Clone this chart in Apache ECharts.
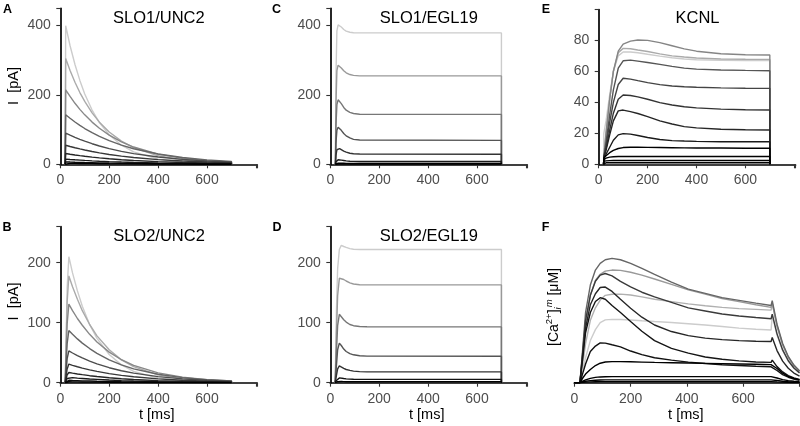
<!DOCTYPE html>
<html>
<head>
<meta charset="utf-8">
<script src="https://cdn.jsdelivr.net/npm/echarts@6/dist/echarts.min.js"></script>
<style>
html,body{margin:0;padding:0;background:#fff;}
#chart{width:800px;height:426px;}
</style>
</head>
<body>
<div id="chart"></div>
<script>
// ---------------- DATA ----------------
// Panel A: SLO1/UNC2, current I [pA] vs t [ms]
const tA = [20, 22, 40, 60, 80, 100, 130, 160, 200, 250, 300, 400, 500, 600, 700, 700];
const curvesA = [
  [0, 400, 342, 288, 242, 203, 156.5, 120.5, 85, 55, 35.7, 15, 6.3, 2.6, 1.1, 0],
  [0, 305, 270.5, 236.7, 207, 181.4, 148.5, 121.6, 93, 66.8, 47.9, 24.5, 12.6, 6.5, 3.3, 0],
  [0, 215, 195.7, 176, 158.5, 142.6, 121.7, 104, 84.2, 64.8, 49.8, 29.4, 17.4, 10.3, 6.1, 0],
  [0, 143, 132.7, 122.1, 112.3, 103.2, 91.2, 80.5, 68.1, 55.3, 44.9, 29.6, 19.5, 12.8, 8.5, 0],
  [0, 90, 84, 77.8, 72, 66.7, 59.4, 52.9, 45.4, 37.4, 30.9, 21, 14.3, 9.7, 6.6, 0],
  [0, 55, 51.4, 47.8, 44.4, 41.2, 36.9, 33, 28.4, 23.7, 19.6, 13.6, 9.4, 6.5, 4.5, 0],
  [0, 31, 29, 26.9, 25, 23.2, 20.8, 18.6, 16, 13.3, 11.1, 7.7, 5.3, 3.7, 2.5, 0],
  [0, 15, 14, 13, 12.1, 11.2, 10, 9, 7.8, 6.5, 5.4, 3.7, 2.6, 1.8, 1.2, 0],
  [0, 7, 6.5, 6, 5.6, 5.2, 4.7, 4.2, 3.6, 3, 2.5, 1.7, 1.2, 0.8, 0.6, 0],
  [0, 3, 2.8, 2.6, 2.4, 2.2, 2, 1.8, 1.5, 1.3, 1.1, 0.7, 0.5, 0.35, 0.25, 0]
];
// Panel B: SLO2/UNC2
const tB = [20, 28, 35, 50, 70, 90, 120, 150, 200, 250, 300, 400, 500, 600, 700, 700];
const curvesB = [
  [0, 158, 210, 183, 153, 127.5, 97, 74, 47, 29.7, 18.9, 7.6, 3.1, 1.2, 0.5, 0],
  [0, 134, 178, 160, 139, 120, 97, 78, 55, 38, 26.8, 13.1, 6.4, 3.1, 1.5, 0],
  [0, 98, 131, 120, 107, 95.7, 80.6, 67.9, 51, 38.3, 28.8, 16.3, 9.2, 5.2, 2.9, 0],
  [0, 65, 87, 80.7, 73, 66, 56.9, 49, 38.1, 29.7, 23.1, 14, 8.5, 5.2, 3.1, 0],
  [0, 40, 53, 49.5, 45.2, 41.3, 36, 31.4, 25, 19.9, 15.9, 10.1, 6.4, 4.1, 2.6, 0],
  [0, 23, 31, 29, 26.6, 24.4, 21.4, 18.8, 15.1, 12.2, 9.8, 6.3, 4.1, 2.7, 1.7, 0],
  [0, 13, 17, 15.9, 14.6, 13.4, 11.7, 10.3, 8.3, 6.7, 5.4, 3.5, 2.2, 1.5, 0.9, 0],
  [0, 7, 9, 8.4, 7.7, 7.1, 6.2, 5.5, 4.4, 3.5, 2.8, 1.8, 1.2, 0.8, 0.5, 0],
  [0, 3, 4, 3.7, 3.4, 3.1, 2.8, 2.4, 2, 1.6, 1.3, 0.8, 0.5, 0.3, 0.2, 0],
  [0, 1.1, 1.5, 1.4, 1.3, 1.2, 1, 0.9, 0.7, 0.6, 0.5, 0.3, 0.2, 0.1, 0.1, 0]
];
// Panel C: SLO1/EGL19
const tC = [21, 23, 27, 32, 38, 45, 55, 65, 80, 95, 120, 700, 700];
const curvesC = [
  [0, 250, 385, 402, 400, 396, 389, 384, 381, 379.5, 379, 379, 0],
  [0, 170, 270, 286, 283, 278, 270, 264, 259, 256.5, 255, 255, 0],
  [0, 110, 172, 186, 182, 175, 164, 156, 150, 146.5, 144.5, 144, 0],
  [0, 60, 98, 107, 104, 98, 89, 82, 76, 72, 70, 69, 0],
  [0, 25, 42, 46, 45, 42, 38, 35, 32, 30.5, 29.5, 29, 0],
  [0, 7, 12, 13, 12.8, 12, 11, 10, 9, 8.5, 8.1, 8, 0],
  [0, 2, 3.2, 3.5, 3.4, 3.2, 2.9, 2.6, 2.4, 2.3, 2.2, 2.2, 0],
  [0, 0.5, 0.9, 1, 1, 0.9, 0.8, 0.7, 0.65, 0.6, 0.6, 0.6, 0]
];
// Panel D: SLO2/EGL19
const tD = [20, 25, 30, 37, 45, 55, 65, 80, 95, 120, 150, 700, 700];
const curvesD = [
  [0, 120, 190, 222, 229, 227, 225.5, 223.5, 222.5, 222, 222, 222, 0],
  [0, 80, 145, 174, 175, 172, 169.5, 166.5, 164.5, 163.3, 163, 163, 0],
  [0, 50, 95, 114, 111, 105, 101, 97, 95, 93.7, 93.2, 93, 0],
  [0, 28, 55, 66, 62, 56, 52, 48.5, 46.5, 45, 44.3, 44, 0],
  [0, 12, 23, 28, 26.5, 24, 22, 20.5, 19.3, 18.5, 18.1, 18, 0],
  [0, 3.5, 6.5, 8, 7.6, 6.9, 6.4, 6, 5.8, 5.6, 5.5, 5.5, 0],
  [0, 1, 1.7, 2, 1.9, 1.8, 1.7, 1.6, 1.55, 1.5, 1.5, 1.5, 0]
];
// Panel E: KCNL
const tE = [20, 21, 30, 45, 60, 80, 100, 130, 160, 200, 250, 300, 350, 400, 500, 600, 700, 700];
const curvesE = [
  [0, 20, 28, 45, 60, 70, 72.5, 72.5, 72, 71, 69.8, 68.8, 68, 67.5, 67.1, 67, 66.9, 0],
  [0, 5, 20, 42, 60, 72, 74.8, 74.6, 73.8, 72.8, 71.3, 70, 69.2, 68.6, 68, 67.8, 67.7, 0],
  [0, 5, 20, 42, 60, 73, 77.5, 79.5, 80.2, 80, 78.5, 76.5, 74.5, 73, 71.3, 70.7, 70.5, 0],
  [0, 4.5, 14, 32, 48, 62, 66.8, 67.2, 66.6, 65.7, 64.5, 63.2, 62.1, 61.4, 60.9, 60.6, 60.4, 0],
  [0, 4.5, 12, 27, 40, 51.5, 55.5, 55, 54, 52.7, 51.4, 50.5, 50, 49.7, 49.3, 49.1, 49, 0],
  [0, 4.5, 10, 22, 33, 42, 44.7, 44.4, 43.5, 42, 39.8, 38.3, 37.1, 36.4, 35.6, 35.2, 35, 0],
  [0, 4.5, 9, 19, 28, 34.5, 35, 34, 32.8, 30.8, 28, 26, 24.3, 23.5, 22.6, 22.3, 22.1, 0],
  [0, 4, 6.5, 11, 15.5, 19, 19.8, 19.5, 18.6, 17.3, 16, 15.3, 15, 14.8, 14.6, 14.6, 14.6, 0],
  [0, 4, 5.5, 7.5, 9, 10.2, 10.8, 11, 11, 10.9, 10.8, 10.7, 10.6, 10.5, 10.5, 10.4, 10.4, 0],
  [0, 3, 4, 4.6, 4.9, 5, 5, 5, 5, 5, 5, 5, 5, 5, 5, 5, 5, 0],
  [0, 2, 2.2, 2.4, 2.5, 2.5, 2.5, 2.5, 2.5, 2.5, 2.5, 2.5, 2.5, 2.5, 2.5, 2.5, 2.5, 0],
  [0, 0.8, 1, 1, 1, 1, 1, 1, 1, 1, 1, 1, 1, 1, 1, 1, 1, 0]
];
// Panel F: membrane Ca2+ concentration (arbitrary units, no y ticks)
const tF = [0, 20, 30, 40, 57, 75, 92, 110, 134, 164, 200, 240, 285, 345, 405, 465, 525, 585, 645, 699, 703, 720, 740, 760, 780, 800];
const curvesF = [
  [0, 0, 8, 16, 27, 34, 38.5, 40.3, 40.6, 40.5, 40.2, 39.7, 39.2, 38.6, 37.8, 37, 36, 35, 34.3, 33.8, 43, 30.6, 20.5, 13.8, 9.2, 6.2],
  [0, 0, 12, 25, 40, 48, 53, 56, 56.7, 56.8, 56.2, 55, 53.5, 52, 50.5, 49.3, 48.3, 47.5, 47, 46.5, 51, 36.3, 24.3, 16.3, 10.9, 7.3],
  [0, 0, 18, 38, 56, 65.5, 69.5, 71.5, 72.2, 72, 70.8, 69, 66.5, 63, 59.5, 56.8, 54, 52, 50, 48.3, 51, 36.3, 24.3, 16.3, 10.9, 7.3],
  [0, 0, 22, 45, 62.6, 72.2, 76.5, 78.8, 79.7, 78.8, 76.5, 73.3, 69.5, 64.5, 60, 57.3, 54.5, 52.8, 51, 49.5, 52.6, 37.5, 25.1, 16.8, 11.3, 7.6],
  [0, 0, 20, 40, 56, 65, 69, 70, 68.5, 65, 61.5, 58, 55, 51.5, 48, 46, 44, 42.8, 41.8, 41, 44, 31.3, 21, 14.1, 9.4, 6.3],
  [0, 0, 18, 35, 50, 57, 61, 61.3, 58.5, 53.5, 47.7, 42, 37, 32.8, 30.2, 28.6, 27.6, 27, 26.6, 26.4, 29, 20.6, 13.8, 9.3, 6.2, 4.2],
  [0, 0, 16, 32, 45, 52, 54.5, 53.5, 49.5, 45, 39.2, 33, 27, 22, 19, 16.5, 15, 14, 13.3, 13, 14.5, 10.3, 6.9, 4.6, 3.1, 2.1],
  [0, 0, 6, 12, 20, 23.5, 25.5, 25.4, 24.3, 23, 20.3, 18, 16, 14.5, 13.2, 12.3, 11.5, 11, 10.5, 10.2, 11, 7.8, 5.2, 3.5, 2.4, 1.6],
  [0, 0, 3, 5.5, 8.5, 11, 12.5, 13.3, 13.5, 13.5, 13.4, 13.2, 13, 12.8, 12.6, 12.4, 12.2, 12, 11.8, 11.6, 12.8, 9.1, 6.1, 4.1, 2.7, 1.8],
  [0, 0, 1, 1.8, 2.8, 3.4, 3.7, 3.8, 3.9, 3.9, 3.9, 3.9, 3.9, 3.9, 3.9, 3.9, 3.9, 3.9, 3.9, 3.9, 4.2, 3, 2, 1.3, 0.9, 0.6],
  [0, 0, 0.5, 0.9, 1.3, 1.6, 1.7, 1.8, 1.8, 1.8, 1.8, 1.8, 1.8, 1.8, 1.8, 1.8, 1.8, 1.8, 1.8, 1.8, 1.9, 1.4, 0.9, 0.6, 0.4, 0.3],
  [0, 0, 0.2, 0.4, 0.5, 0.6, 0.7, 0.7, 0.7, 0.7, 0.7, 0.7, 0.7, 0.7, 0.7, 0.7, 0.7, 0.7, 0.7, 0.7, 0.75, 0.5, 0.35, 0.25, 0.15, 0.1]
];
// tick label values
const xTicks = [0, 200, 400, 600];
const yTicksAC = [0, 200, 400];
const yTicksBD = [0, 100, 200];
const yTicksE = [0, 20, 40, 60, 80];

// ---------------- STYLE ----------------
const colA = ['#cccccc', '#aaaaaa', '#888888', '#666666', '#4d4d4d', '#383838', '#262626', '#1a1a1a', '#0d0d0d', '#000000'];
const colC = ['#cccccc', '#999999', '#777777', '#555555', '#333333', '#1a1a1a', '#000000', '#000000'];
const colD = ['#cccccc', '#999999', '#777777', '#555555', '#333333', '#111111', '#000000'];
const colE = ['#cccccc', '#aaaaaa', '#858585', '#555555', '#444444', '#333333', '#262626', '#1a1a1a', '#000000', '#000000', '#000000', '#000000'];
const colF = ['#cccccc', '#b0b0b0', '#999999', '#666666', '#3a3a3a', '#262626', '#151515', '#111111', '#000000', '#000000', '#000000', '#000000'];

const FONT = "'Liberation Sans', Arial, Helvetica, sans-serif";

const panels = [
  { t: tA, c: curvesA, col: colA, grid: { left: 60.3, top: 8.3, width: 196.8, height: 156 }, xmax: 805, ymax: 450, yint: 200, yshow: true },
  { t: tC, c: curvesC, col: colC, grid: { left: 330.3, top: 8.3, width: 196.8, height: 156 }, xmax: 805, ymax: 450, yint: 200, yshow: true },
  { t: tE, c: curvesE, col: colE, grid: { left: 598.7, top: 9.5, width: 196.8, height: 154.8 }, xmax: 805, ymax: 99.9, yint: 20, yshow: true },
  { t: tB, c: curvesB, col: colA, grid: { left: 60.3, top: 226.7, width: 196.8, height: 156 }, xmax: 805, ymax: 260, yint: 100, yshow: true },
  { t: tD, c: curvesD, col: colD, grid: { left: 330.3, top: 226.7, width: 196.8, height: 156 }, xmax: 805, ymax: 260, yint: 100, yshow: true },
  { t: tF, c: curvesF, col: colF, grid: { left: 574.3, top: 226.7, width: 225.8, height: 156 }, xmax: 802, ymax: 100, yint: 20, yshow: false }
];

const grids = [], xAxes = [], yAxes = [], series = [];
panels.forEach((p, gi) => {
  grids.push(Object.assign({ containLabel: false, outerBoundsMode: 'none' }, p.grid));
  xAxes.push({
    type: 'value', gridIndex: gi, min: 0, max: p.xmax, interval: 200,
    axisLine: { show: true, onZero: false, lineStyle: { color: '#000', width: 1.7 } },
    axisTick: { show: true, length: 4, lineStyle: { color: '#333', width: 1.1 } },
    axisLabel: { show: true, fontSize: 14, color: '#4d4d4d', margin: 9, fontFamily: FONT,
      formatter: v => (xTicks.indexOf(v) >= 0 ? String(v) : '') },
    splitLine: { show: false }
  });
  const ticks = gi === 2 ? yTicksE : (gi < 2 ? yTicksAC : yTicksBD);
  yAxes.push({
    type: 'value', gridIndex: gi, min: 0, max: p.ymax, interval: p.yint, show: p.yshow,
    axisLine: { show: true, onZero: false, lineStyle: { color: '#000', width: 1.7 } },
    axisTick: { show: true, length: 4, lineStyle: { color: '#333', width: 1.1 } },
    axisLabel: { show: true, fontSize: 14, color: '#4d4d4d', margin: 9.5, fontFamily: FONT,
      formatter: v => (ticks.indexOf(v) >= 0 ? String(v) : '') },
    splitLine: { show: false }
  });
  p.c.forEach((vals, k) => {
    series.push({
      type: 'line', xAxisIndex: gi, yAxisIndex: gi,
      data: p.t.map((x, i) => [x, vals[i]]),
      showSymbol: false, symbol: 'none', silent: true, animation: false,
      lineStyle: { color: p.col[k], width: 1.4 },
      z: 2 + k
    });
  });
});

function txt(x, y, text, font, extra) {
  return Object.assign({
    type: 'text', x: x, y: y, silent: true, z: 100,
    style: { text: text, font: font, fill: '#000', align: 'center', verticalAlign: 'middle',
      textAlign: 'center', textVerticalAlign: 'middle' }
  }, extra || {});
}
const titleFont = '16.5px ' + FONT;
const letterFont = 'bold 12.5px ' + FONT;
const labFont = '14.5px ' + FONT;

const graphics = [
  txt(158.8, 18, 'SLO1/UNC2', titleFont),
  txt(428.8, 18, 'SLO1/EGL19', titleFont),
  txt(697.5, 18.3, 'KCNL', titleFont),
  txt(159, 236.7, 'SLO2/UNC2', titleFont),
  txt(428.8, 236.7, 'SLO2/EGL19', titleFont),
  txt(7.5, 10, 'A', letterFont),
  txt(276.5, 10, 'C', letterFont),
  txt(546, 10, 'E', letterFont),
  txt(7, 227.3, 'B', letterFont),
  txt(276.9, 227.3, 'D', letterFont),
  txt(545.5, 227.3, 'F', letterFont),
  txt(13.5, 86, 'I  [pA]', labFont, { rotation: Math.PI / 2 }),
  txt(13.8, 301.5, 'I  [pA]', labFont, { rotation: Math.PI / 2 }),
  txt(156.7, 415, 't [ms]', labFont),
  txt(426.7, 415, 't [ms]', labFont),
  txt(685.8, 415, 't [ms]', labFont),
  {
    type: 'text', x: 554, y: 307, rotation: Math.PI / 2, silent: true, z: 100,
    style: {
      text: '{b|[Ca}{sup|2+}{b|]}{sub|i}{supi|m}{b| [μM]}',
      align: 'center', verticalAlign: 'middle', textAlign: 'center', textVerticalAlign: 'middle',
      rich: {
        b: { fontSize: 14, fontFamily: FONT, fill: '#000', lineHeight: 19 },
        sup: { fontSize: 9.5, fontFamily: FONT, fill: '#000', verticalAlign: 'top' },
        sub: { fontSize: 9.5, fontFamily: FONT, fill: '#000', fontStyle: 'italic', verticalAlign: 'bottom' },
        supi: { fontSize: 9.5, fontFamily: FONT, fill: '#000', fontStyle: 'italic', verticalAlign: 'top' }
      }
    }
  }
];

const chart = echarts.init(document.getElementById('chart'), null, { renderer: 'canvas' });
chart.setOption({
  animation: false,
  backgroundColor: '#ffffff',
  grid: grids,
  xAxis: xAxes,
  yAxis: yAxes,
  series: series,
  graphic: { elements: graphics }
});
</script>
</body>
</html>
